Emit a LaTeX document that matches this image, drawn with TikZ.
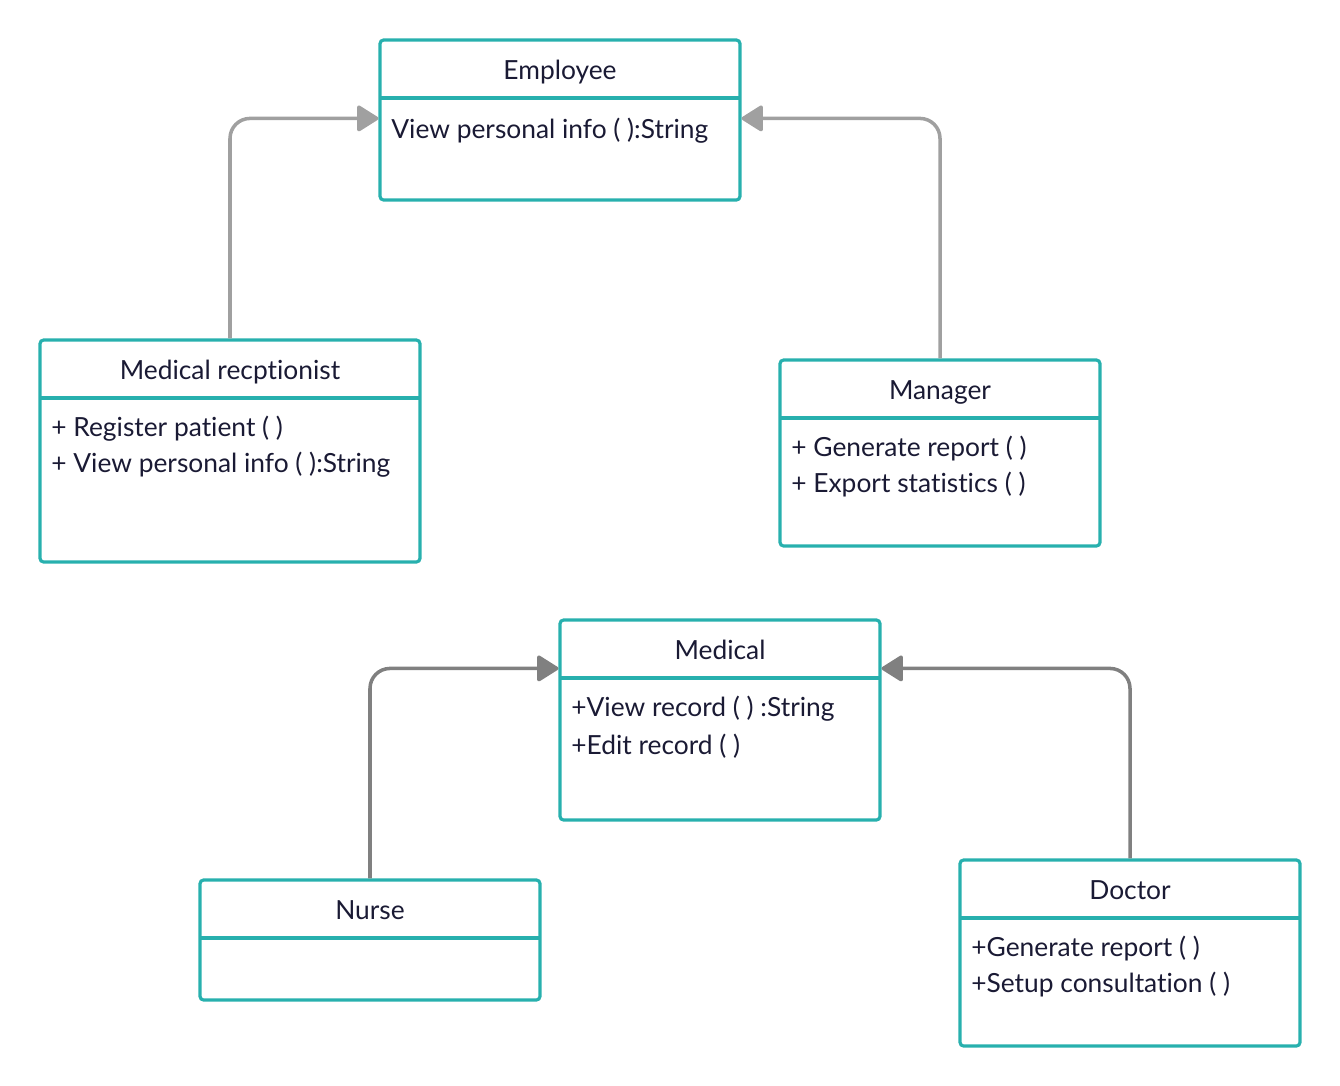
\documentclass[tikz,border=0pt]{standalone}
\usepackage{fontspec}
\setmainfont{Lato}[Ligatures={NoCommon}]
\usetikzlibrary{arrows.meta}
\definecolor{teal}{RGB}{40,176,174}
\definecolor{ink}{RGB}{26,26,52}
\definecolor{lightarr}{RGB}{160,160,160}
\definecolor{darkarr}{RGB}{128,128,128}

\begin{document}
\begin{tikzpicture}[
  x=0.02cm, y=-0.02cm,
  cls/.style={draw=teal, line width=1.8pt, rounded corners=2pt, anchor=center,
              inner sep=0pt},
  divider/.style={draw=teal, line width=1.8pt},
  title/.style={anchor=base, font=\fontsize{15}{18}\selectfont, text=ink},
  op/.style={anchor=base west, font=\fontsize{15}{18}\selectfont, text=ink, inner sep=0pt},
  arr/.style={-{Triangle[length=0.46cm, width=0.56cm, round]}, line width=2pt,
              rounded corners=0.4cm},
]
\useasboundingbox (0,0) rectangle (1340,1086);

% Employee
\node[cls, minimum width=7.2cm, minimum height=3.2cm] (emp) at (560,120) {};
\draw[divider] (380,98) -- (740,98);
\node[title] (emp-t) at (560,79) {Employee};
\node[op] (emp-o1) at (391,138) {View personal info ( ):String};

% Medical receptionist
\node[cls, minimum width=7.6cm, minimum height=4.44cm] (rec) at (230,451) {};
\draw[divider] (40,398) -- (420,398);
\node[title] (rec-t) at (230,379) {Medical recptionist};
\node[op] (rec-o1) at (51,436) {+ Register patient ( )};
\node[op] (rec-o2) at (51,472) {+ View personal info ( ):String};

% Manager
\node[cls, minimum width=6.4cm, minimum height=3.72cm] (man) at (940,453) {};
\draw[divider] (780,418) -- (1100,418);
\node[title] (man-t) at (940,399) {Manager};
\node[op] (man-o1) at (791,456) {+ Generate report ( )};
\node[op] (man-o2) at (791,492) {+ Export statistics ( )};

% Medical
\node[cls, minimum width=6.4cm, minimum height=4cm] (med) at (720,720) {};
\draw[divider] (560,678) -- (880,678);
\node[title] (med-t) at (720,659) {Medical};
\node[op] (med-o1) at (571,716) {+View record ( ) :String};
\node[op] (med-o2) at (571,754) {+Edit record ( )};

% Nurse
\node[cls, minimum width=6.8cm, minimum height=2.4cm] (nur) at (370,940) {};
\draw[divider] (200,938) -- (540,938);
\node[title] (nur-t) at (370,919) {Nurse};

% Doctor
\node[cls, minimum width=6.8cm, minimum height=3.72cm] (doc) at (1130,953) {};
\draw[divider] (960,918) -- (1300,918);
\node[title] (doc-t) at (1130,899) {Doctor};
\node[op] (doc-o1) at (971,956) {+Generate report ( )};
\node[op] (doc-o2) at (971,992) {+Setup consultation ( )};

% Arrows -- inheritance
\draw[arr, draw=lightarr] (rec.north) |- ([yshift=-1.6cm]emp.north west);
\draw[arr, draw=lightarr] (man.north) |- ([yshift=-1.6cm]emp.north east);
\draw[arr, draw=darkarr] (nur.north) |- ([yshift=-1cm]med.north west);
\draw[arr, draw=darkarr] (doc.north) |- ([yshift=-1cm]med.north east);

\end{tikzpicture}
\end{document}
